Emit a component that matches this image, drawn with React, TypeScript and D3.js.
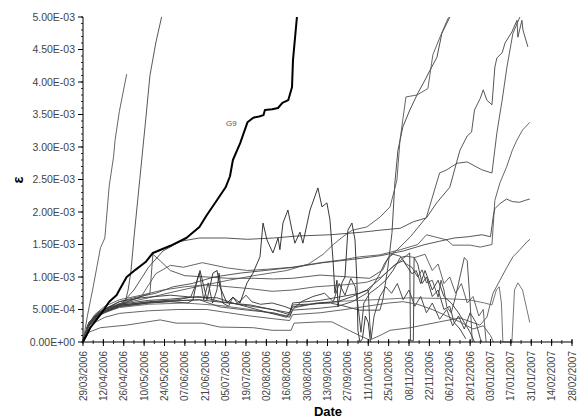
import React from "react";
import * as d3 from "d3";

// Strain gauge readings: [days since 29/03/2006, strain in units of 1e-3]
const START = Date.UTC(2006, 2, 29);
const END = Date.UTC(2007, 1, 28);

const g9 = [[0,0],[5,0.22],[12,0.42],[18,0.62],[23,0.72],[27,0.88],[30,1.0],[36,1.11],[43,1.23],[48,1.37],[60,1.48],[71,1.6],[80,1.77],[85,1.95],[92,2.18],[98,2.38],[101,2.55],[103,2.8],[108,3.06],[113,3.38],[117,3.45],[121,3.47],[124,3.49],[125,3.57],[130,3.58],[134,3.6],[137,3.68],[141,3.72],[143.6,3.92],[144.3,4.34],[147,5.0]];

const gaugeA = [[0,0],[3,0.4],[7,0.85],[12,1.45],[15,1.6],[18,2.4],[21,2.85],[22,3.1],[25,3.55],[30,4.12]];
const gaugeB = [[0,0],[4,0.3],[10,0.45],[20,0.55],[29,0.62],[31,0.8],[33,1.1],[35,1.6],[39,2.5],[43,3.4],[46,4.1],[50,4.6],[54,5.0]];
const gaugeC = [[0,0],[4,0.28],[12,0.44],[25,0.57],[50,0.62],[80,0.65],[100,0.6],[115,0.57],[130,0.5],[142,0.42],[144,0.57],[170,0.6],[180,0.55],[190,0.49],[204,0.49],[206,0.65],[209.5,1.15],[212.3,1.68],[214.3,2.45],[216.4,2.95],[219.8,3.31],[224.6,3.57],[230.1,3.83],[235,4.03],[238.4,4.18],[243.2,4.38],[246.6,4.75],[252.1,5.0]];
const gaugeD = [[0,0],[4,0.3],[12,0.46],[25,0.58],[45,0.68],[60,0.76],[80,0.86],[100,0.95],[120,1.03],[140,1.1],[155,1.2],[165,1.35],[172,1.5],[178.6,1.62],[185,1.72],[195,1.77],[204,1.92],[211,2.08],[215.7,2.49],[217.8,3.1],[221.9,3.77],[229.5,3.8],[237,3.9],[240.4,4.42],[245.3,4.69],[250.8,4.98],[252,5.0]];
const gaugeE = [[0,0],[4,0.25],[12,0.42],[25,0.55],[35,0.8],[45,1.15],[55,1.4],[67,1.55],[80,1.6],[98,1.6],[113,1.58],[131,1.6],[147,1.63],[170,1.65],[192,1.69],[204,1.72],[218,1.75],[227,1.85],[236,1.91],[243,2.14],[252,2.38],[259,2.95],[264,3.17],[267,3.23],[269,3.57],[273,3.75],[275,3.88],[277.5,3.72],[281,3.65],[283,4.23],[284.4,4.37],[288,4.45],[290,4.6],[294.7,4.77],[298.2,4.95],[298.8,4.69],[301.6,4.95],[302.3,4.8],[305.7,4.54]];
const gaugeF = [[0,0],[4,0.27],[12,0.44],[25,0.57],[38,0.68],[46,0.75],[48,1.35],[53,1.25],[60,1.1],[70,1.02],[85,1.0],[100,0.98],[118,0.98],[131,0.97],[144,0.98],[163,1.03],[183,1.0],[197,0.98],[206,1.11],[210,1.31],[216,1.42],[225,1.62],[236,1.92],[245,2.6],[250,2.65],[257,2.75],[264,2.77],[274,2.65],[281,2.6],[284.4,3.22],[288,3.72],[291.3,4.23],[295.4,4.75],[300.2,5.0]];
const gaugeH = [[0,0],[4,0.28],[12,0.45],[25,0.58],[40,0.7],[50,1.05],[60,1.18],[69,1.15],[82,1.22],[99,1.14],[113,1.1],[127,1.12],[144,1.15],[163,1.22],[177,1.26],[190,1.31],[204,1.34],[218,1.42],[230,1.5],[236,1.65],[250,1.57],[254,1.49],[266,1.49],[273,1.46],[281,1.5],[283,2.18],[286.5,2.45],[291,2.69],[295,2.95],[298,3.1],[302,3.26],[307,3.38]];
const gaugeK = [[0,0],[4,0.3],[12,0.48],[25,0.62],[35,0.68],[50,0.75],[62,0.85],[75,0.9],[90,1.0],[108,1.06],[125,1.1],[145,1.15],[165,1.22],[185,1.27],[205,1.33],[220,1.4],[235,1.5],[245,1.55],[255,1.6],[265,1.62],[274,1.65],[280,1.62],[282,1.95],[283,2.05],[286,2.12],[291,2.2],[295,2.16],[300,2.15],[304,2.18],[307,2.2]];
const gaugeJ1 = [[0,0],[4,0.26],[12,0.43],[25,0.55],[45,0.6],[60,0.62],[72,0.6],[75.6,0.65],[78.3,0.95],[80.4,1.1],[85.2,0.65],[89.3,1.06],[92.1,1.1],[94.1,0.85],[98.9,0.6],[103,0.69],[107.9,0.6],[112.7,0.91],[116.8,1.06],[121.6,1.31],[123.7,1.83],[126.4,1.57],[130.5,1.37],[134,1.6],[135.3,1.42],[137.4,1.83],[140.8,2.03],[143.6,1.72],[145.6,1.52],[149.1,1.69],[151.1,1.52],[156,2.03],[161.4,2.37],[164.2,2.08],[167.6,2.14],[169.7,1.88],[171.8,1.26],[173.1,0.75],[174.5,0.95],[175.2,0.54],[177.9,0.91],[180,1.0],[182,1.72],[184.8,1.83],[186.9,1.57],[188.2,0.95],[188.9,0.18],[190.3,0],[192,0.05],[194,0.4],[196,0.3],[197.5,0]];
const gaugeJ2 = [[0,0],[4,0.28],[12,0.45],[25,0.56],[45,0.62],[65,0.65],[74,0.69],[78,0.91],[80,1.06],[83,0.65],[86,0.91],[89,0.6],[92,0.8],[93.5,1.06],[96,0.6],[100,0.55],[103,0.69],[106,0.6],[109,0.65],[112,0.72],[116,0.62],[122,0.58],[130,0.6],[138,0.55],[144,0.5],[150,0.62],[158,0.7],[166,0.75],[172,0.62],[176,0.9],[180,0.72],[184,0.98],[187,0.85],[189,0.55],[191,0.15],[193,0.6],[197,0.75],[203,0.85],[208,0.95],[213,1.1],[218,1.3],[222,1.32],[224.5,1.37],[225,0.02],[227,0.02],[227.5,1.3],[230,1.2],[233,0.9],[236,1.0],[240,0.7],[244,0.8],[248,0.5],[252,0.55],[255,0.3],[259,0.2],[263,0.05]];
const gaugeL = [[0,0],[4,0.15],[12,0.22],[30,0.26],[53,0.34],[64,0.29],[82,0.29],[94,0.23],[117,0.22],[130,0.18],[143,0.18],[145,0.29],[163,0.31],[171,0.31],[179,0.22],[190,0.1],[197,0.03],[204,0.1],[211,0.18],[225,0.22],[231.5,0.25],[245,0.31],[259,0.37],[272.7,0.26],[277.5,0.38],[281.7,0.75],[286.5,0.95],[291.3,1.15],[295.4,1.31],[300.2,1.42],[305,1.54],[307.1,1.58]];
const gaugeM = [[0,0],[4,0.27],[12,0.43],[25,0.53],[45,0.58],[70,0.6],[95,0.56],[115,0.5],[130,0.44],[142,0.4],[144.5,0.52],[160,0.6],[180,0.63],[200,0.65],[225,0.68],[245,0.67],[265,0.65],[276,0.6],[281,0.57],[284,0.8],[286,0.85],[287.5,0.6],[288.5,0],[294.7,0],[296.5,0.8],[298.8,0.91],[302,0.8],[305,0.5],[307,0.3]];
const gaugeN = [[0,0],[3,0.22],[8,0.38],[15,0.5],[25,0.62],[40,0.68],[60,0.72],[75,0.69],[92,0.68],[103,0.6],[113,0.54],[126,0.46],[140,0.38],[144,0.54],[163,0.6],[175,0.62],[185,0.7],[195,0.8],[203,0.95],[210,1.1],[215,1.2],[220,1.25],[226,1.05],[229,1.1],[232,0.9],[235,1.1],[240,0.8],[244,0.95],[248,0.7],[253,0.6],[258,0.45],[262,0.3],[266,0.15],[269,0]];
const gaugeP = [[0,0],[3,0.2],[8,0.36],[15,0.46],[25,0.54],[45,0.6],[60,0.63],[80,0.65],[94,0.54],[113,0.49],[131,0.45],[142,0.38],[144,0.49],[163,0.52],[175,0.55],[185,0.62],[195,0.75],[200,0.9],[204,1.05],[207,1.2],[210,1.3],[213,1.35],[218,1.32],[222,1.2],[226,1.15],[230,1.0],[233,1.11],[236,0.91],[240,0.95],[244,0.69],[246,0.95],[248,0.8],[250,0.54],[253,0.45],[256,0.7],[259,1.0],[262,1.3],[264,1.25],[266,0.6],[267.5,0]];
const gaugeQ = [[0,0],[3,0.24],[8,0.4],[15,0.5],[25,0.58],[45,0.64],[60,0.66],[80,0.7],[95,0.62],[113,0.56],[130,0.5],[142,0.45],[144,0.6],[163,0.64],[178,0.7],[190,0.75],[196,0.8],[197,0.3],[198,0.05],[200,0.4],[204,0.7],[208,0.85],[212,0.75],[216,0.9],[220,0.65],[224,0.8],[228,0.55],[232,0.7],[236,0.45],[240,0.6],[245,0.35],[250,0.5],[254,0.25],[258,0.4],[262,0.2],[266,0.45],[270,0.3],[273,0.05],[274,0]];
const gaugeR = [[0,0],[3,0.25],[8,0.42],[15,0.55],[25,0.65],[40,0.72],[55,0.8],[70,0.85],[85,0.88],[100,0.85],[115,0.82],[130,0.78],[144,0.8],[160,0.85],[180,0.88],[195,0.92],[205,1.0],[215,1.2],[222,1.32],[228,1.3],[235,1.35],[240,1.1],[244,1.2],[248,0.9],[252,1.0],[256,0.75],[260,0.9],[264,0.6],[268,0.7],[272,0.4],[275,0.5],[277,0]];
const gaugeS = [[0,0],[3,0.18],[8,0.3],[15,0.38],[25,0.44],[45,0.48],[65,0.5],[85,0.5],[100,0.45],[115,0.4],[130,0.36],[142,0.33],[144,0.42],[163,0.45],[180,0.5],[195,0.55],[210,0.6],[220,0.62],[230,0.58],[240,0.5],[250,0.4],[260,0.3],[268,0.2],[275,0.25],[280,0.1],[282,0]];

const thinGauges = [gaugeA, gaugeB, gaugeC, gaugeD, gaugeE, gaugeF, gaugeH, gaugeK, gaugeJ1, gaugeJ2, gaugeL, gaugeM, gaugeN, gaugeP, gaugeQ, gaugeR, gaugeS];
const thinColors = ["#555", "#444", "#3a3a3a", "#555", "#444", "#4a4a4a", "#555", "#444", "#222", "#333", "#555", "#666", "#333", "#444", "#3a3a3a", "#555", "#555"];

const dateTicks = ["29/03/2006","12/04/2006","26/04/2006","10/05/2006","24/05/2006","07/06/2006","21/06/2006","05/07/2006","19/07/2006","02/08/2006","16/08/2006","30/08/2006","13/09/2006","27/09/2006","11/10/2006","25/10/2006","08/11/2006","22/11/2006","06/12/2006","20/12/2006","03/01/2007","17/01/2007","31/01/2007","14/02/2007","28/02/2007"];
const strainTicks = [0, 0.0005, 0.001, 0.0015, 0.002, 0.0025, 0.003, 0.0035, 0.004, 0.0045, 0.005];

const W = 577, H = 419;
const LEFT = 83, RIGHT = 572, BOTTOM = 342, TOP = 17;
const DAY = 86400000;

const x = d3.scaleUtc().domain([new Date(START), new Date(END)]).range([LEFT, RIGHT]);
const y = d3.scaleLinear().domain([0, 0.005]).range([BOTTOM, TOP]);
const parseTick = d3.utcParse("%d/%m/%Y");

const line = d3.line<number[]>()
  .x((p) => x(new Date(START + p[0] * DAY)))
  .y((p) => y(p[1] * 1e-3));

function sci(v: number) {
  const [m, e] = v.toExponential(2).split("e");
  const sign = e.startsWith("-") ? "-" : "+";
  const digits = e.replace(/[+-]/, "").padStart(2, "0");
  return `${m}E${sign}${digits}`;
}

export default function App() {
  const weekTicks = d3.range(0, (END - START) / DAY + 1, 7).map((d) => new Date(START + d * DAY));
  const minorY = d3.range(0, 51).map((i) => i * 1e-4);
  const font = "'Liberation Sans', Arial, sans-serif";
  return (
    <svg width={W} height={H} style={{ position: "absolute", left: 0, top: 0, background: "#fff" }}>
      <defs>
        <clipPath id="plot">
          <rect x={LEFT} y={TOP} width={RIGHT - LEFT} height={BOTTOM - TOP + 2} />
        </clipPath>
      </defs>
      <g clipPath="url(#plot)" fill="none" strokeLinejoin="round">
        {thinGauges.map((s, i) => (
          <path key={i} d={line(s) || ""} stroke={thinColors[i]} strokeWidth={0.9} />
        ))}
        <path d={line(g9) || ""} stroke="#000" strokeWidth={2} />
      </g>
      <text x={x(new Date(START + 102 * DAY))} y={y(3.33e-3)} fontFamily={font} fontSize={8} fill="#555" textAnchor="middle">G9</text>

      {/* y axis */}
      <line x1={LEFT} x2={LEFT} y1={TOP} y2={BOTTOM} stroke="#000" />
      {minorY.map((v, i) => (
        <line key={i} x1={LEFT - 2} x2={LEFT} y1={y(v)} y2={y(v)} stroke="#000" strokeWidth={0.8} />
      ))}
      {strainTicks.map((v) => (
        <g key={v}>
          <line x1={LEFT - 5} x2={LEFT} y1={y(v)} y2={y(v)} stroke="#000" />
          <text x={LEFT - 8} y={y(v)} dy="0.35em" textAnchor="end" fontFamily={font} fontSize={10.5} fill="#444">{sci(v)}</text>
        </g>
      ))}

      {/* x axis */}
      <line x1={LEFT} x2={RIGHT} y1={BOTTOM} y2={BOTTOM} stroke="#000" />
      {weekTicks.map((d, i) => (
        <line key={i} x1={x(d)} x2={x(d)} y1={BOTTOM - 2} y2={BOTTOM + 2} stroke="#000" strokeWidth={0.8} />
      ))}
      {dateTicks.map((t) => {
        const px = x(parseTick(t) as Date);
        return (
          <g key={t}>
            <line x1={px} x2={px} y1={BOTTOM - 3} y2={BOTTOM + 4} stroke="#000" />
            <text transform={`translate(${px},${BOTTOM + 9}) rotate(-90)`} dy="0.35em" textAnchor="end" fontFamily={font} fontSize={10} fill="#444">{t}</text>
          </g>
        );
      })}

      <text x={328} y={416} textAnchor="middle" fontFamily={font} fontSize={13} fontWeight="bold" fill="#000">Date</text>
      <text transform={`translate(18,180) rotate(-90)`} dy="0.35em" textAnchor="middle" fontFamily={font} fontSize={15} fontWeight="bold" fill="#000">ε</text>
    </svg>
  );
}
